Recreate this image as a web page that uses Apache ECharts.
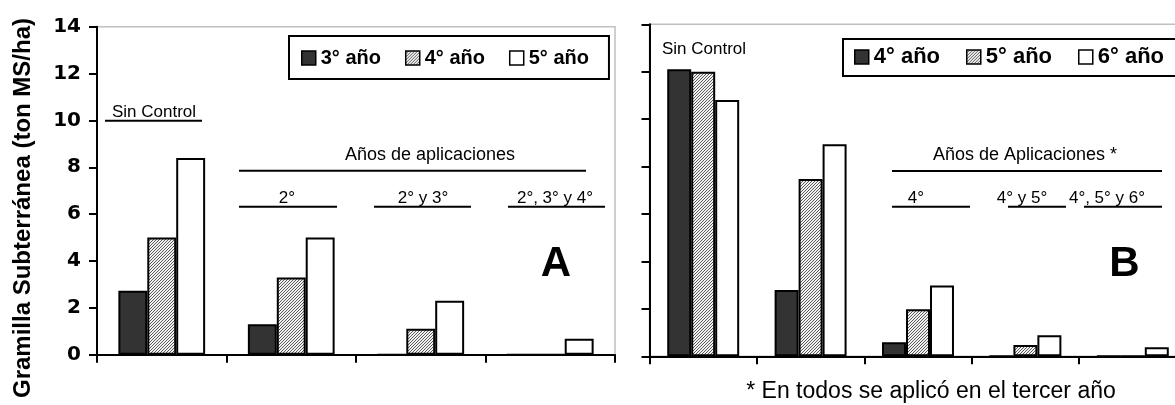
<!DOCTYPE html>
<html>
<head>
<meta charset="utf-8">
<script src="https://cdn.jsdelivr.net/npm/echarts@6/dist/echarts.min.js"></script>
<style>
html,body{margin:0;padding:0;background:#fff;}
#chart{width:1175px;height:405px;}
</style>
</head>
<body>
<div id="chart"></div>
<script>
// ---- Data ----
const categoriesA = ['Sin Control', '2°', '2° y 3°', '2°, 3° y 4°'];
const seriesNamesA = ['3° año', '4° año', '5° año'];
const valuesA_3 = [2.73, 1.30, 0, 0];
const valuesA_4 = [5.0, 3.3, 1.11, 0];
const valuesA_5 = [8.4, 5.0, 2.30, 0.68];

const categoriesB = ['Sin Control', '3°', '4°', '4° y 5°', '4°, 5° y 6°'];
const seriesNamesB = ['4° año', '5° año', '6° año'];
const valuesB_4 = [12.1, 2.8, 0.59, 0, 0];
const valuesB_5 = [12.0, 7.48, 1.98, 0.48, 0];
const valuesB_6 = [10.81, 8.94, 2.99, 0.89, 0.38];

const yTicks = [0, 2, 4, 6, 8, 10, 12, 14];

// ---- Styles ----
const FONT = '"Liberation Sans", Arial, sans-serif';
function hatchCanvas() {
  const c = document.createElement('canvas');
  c.width = 3; c.height = 3;
  const g = c.getContext('2d');
  g.fillStyle = '#f2f2f2'; g.fillRect(0, 0, 3, 3);
  g.fillStyle = '#5a5a5a';
  for (let i = 0; i < 3; i++) g.fillRect(i, 2 - i, 1, 1);
  return c;
}
const hatch = { image: hatchCanvas(), repeat: 'repeat' };
const fills = ['#333333', hatch, '#ffffff'];
const barStyle = (i) => ({ color: fills[i], borderColor: '#000', borderWidth: 2 });
const legendStyle = (i) => ({ color: fills[i], borderColor: '#000', borderWidth: 1.5 });

const chart = echarts.init(document.getElementById('chart'), null, { renderer: 'canvas' });

function yAxis(gridIndex, showLabels) {
  return {
    type: 'value', gridIndex, min: 0, max: 14, interval: 2,
    axisLine: { show: true, lineStyle: { color: '#000', width: 2 } },
    axisTick: { show: true, inside: false, length: 8, lineStyle: { color: '#000', width: 2 } },
    splitLine: { show: false },
    axisLabel: {
      show: showLabels, margin: 16, color: '#000', fontSize: 20, fontWeight: 'bold',
      fontFamily: '"DejaVu Sans", sans-serif',
      formatter: (v) => yTicks.includes(v) ? String(v) : ''
    }
  };
}
function xAxis(gridIndex, cats) {
  return {
    type: 'category', gridIndex, data: cats, boundaryGap: true,
    axisLine: { show: true, lineStyle: { color: '#000', width: 2 } },
    axisTick: { show: true, inside: false, length: 8, alignWithLabel: false, lineStyle: { color: '#000', width: 2 } },
    axisLabel: { show: false },
    splitLine: { show: false }
  };
}
function bars(names, vals, axisIndex) {
  return names.map((n, i) => ({
    type: 'bar', name: n, data: vals[i],
    xAxisIndex: axisIndex, yAxisIndex: axisIndex,
    barGap: '0%', barCategoryGap: '33%',
    itemStyle: barStyle(i),
    emphasis: { disabled: true },
    animation: false
  }));
}

function txt(x, y, text, size, weight, extra) {
  return Object.assign({
    type: 'text', x, y, silent: true,
    style: {
      text, fill: '#000', font: (weight || 'normal') + ' ' + size + 'px ' + FONT,
      align: 'center', verticalAlign: 'middle',
      textAlign: 'center', textVerticalAlign: 'middle'
    }
  }, extra || {});
}
function ln(x1, x2, y) {
  return { type: 'line', silent: true, shape: { x1, y1: y, x2, y2: y }, style: { stroke: '#000', lineWidth: 2 } };
}

const option = {
  animation: false,
  backgroundColor: '#fff',
  textStyle: { fontFamily: FONT },
  grid: [
    { left: 97, top: 26.7, width: 518, height: 328, show: true, borderColor: '#c0c0c0', borderWidth: 1.5,
      containLabel: false, outerBoundsMode: 'none' },
    { left: 649.5, top: 24.3, width: 537, height: 332, show: true, borderColor: '#c0c0c0', borderWidth: 1.5,
      containLabel: false, outerBoundsMode: 'none' }
  ],
  xAxis: [xAxis(0, categoriesA), xAxis(1, categoriesB)],
  yAxis: [yAxis(0, true), yAxis(1, false)],
  legend: [
    {
      left: 289, top: 36, width: 400, orient: 'horizontal',
      padding: [12, 20, 11, 12], itemGap: 24, itemWidth: 14, itemHeight: 14,
      borderColor: '#000', borderWidth: 2, backgroundColor: '#fff',
      icon: 'rect', selectedMode: false,
      textStyle: { fontSize: 20, fontWeight: 'bold', color: '#000', fontFamily: FONT },
      data: seriesNamesA.map((n, i) => ({ name: n, icon: 'rect', itemStyle: legendStyle(i) }))
    },
    {
      left: 843, top: 39, width: 500, orient: 'horizontal',
      padding: [7, 14, 7, 11], itemGap: 26, itemWidth: 14, itemHeight: 14,
      borderWidth: 0, backgroundColor: 'transparent',
      icon: 'rect', selectedMode: false,
      textStyle: { fontSize: 22, fontWeight: 'bold', color: '#000', fontFamily: FONT },
      data: seriesNamesB.map((n, i) => ({ name: n, icon: 'rect', itemStyle: legendStyle(i) }))
    }
  ],
  series: [
    ...bars(seriesNamesA, [valuesA_3, valuesA_4, valuesA_5], 0),
    ...bars(seriesNamesB, [valuesB_4, valuesB_5, valuesB_6], 1)
  ],
  graphic: [
    // frame of panel B legend (runs off the right edge like the original)
    { type: 'rect', z: 3, silent: true, shape: { x: 843, y: 39, width: 400, height: 37 },
      style: { fill: '#fff', stroke: '#000', lineWidth: 2 } },
    // y axis title
    txt(23, 208, 'Gramilla Subterránea (ton MS/ha)', 24, 'bold', { rotation: Math.PI / 2 }),
    // Panel A annotations
    txt(154, 112, 'Sin Control', 17), ln(105, 202, 120.7),
    txt(430, 155, 'Años de aplicaciones', 18), ln(239, 586, 170.7),
    txt(287, 198, '2°', 17), ln(239, 337, 206.7),
    txt(423, 198, '2° y 3°', 17), ln(374, 471, 206.7),
    txt(555, 198, '2°, 3° y 4°', 17), ln(508, 605, 206.7),
    txt(556, 264, 'A', 42, 'bold'),
    // Panel B annotations
    txt(704, 49, 'Sin Control', 17),
    txt(1025, 155, 'Años de Aplicaciones *', 18), ln(892, 1162, 171),
    txt(916, 198, '4°', 17), ln(892, 970, 206.7),
    txt(1022, 198, '4° y 5°', 17), ln(1008, 1066, 206.7),
    txt(1107, 198, '4°, 5° y 6°', 17), ln(1084, 1162, 206.7),
    txt(1124.5, 264, 'B', 42, 'bold'),
    txt(931, 392, '* En todos se aplicó en el tercer año', 23)
  ]
};
chart.setOption(option);
</script>
</body>
</html>
